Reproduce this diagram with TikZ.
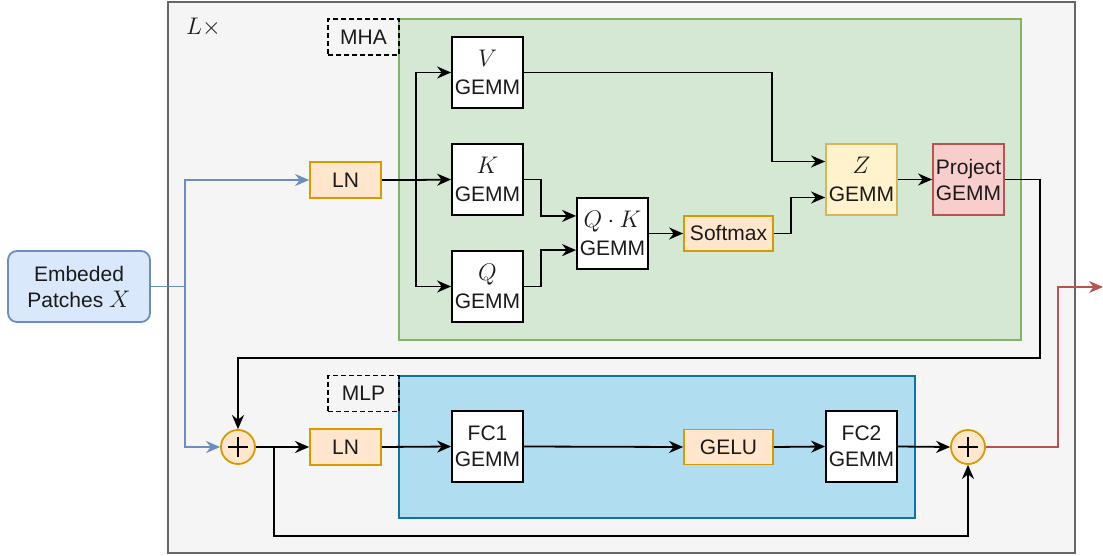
\RequirePackage{fix-cm}
\documentclass[tikz,border=0pt]{standalone}
\usepackage{fontspec}
\setmainfont{Liberation Sans}
\usetikzlibrary{arrows.meta,calc}
\definecolor{outerfill}{HTML}{F5F5F5}
\definecolor{outerdraw}{HTML}{666666}
\definecolor{greenfill}{HTML}{D5E8D4}
\definecolor{greendraw}{HTML}{82B366}
\definecolor{bluefill}{HTML}{B1DDF0}
\definecolor{bluedraw}{HTML}{10739E}
\definecolor{embfill}{HTML}{DAE8FC}
\definecolor{embdraw}{HTML}{6C8EBF}
\definecolor{orfill}{HTML}{FFE6CC}
\definecolor{ordraw}{HTML}{D79B00}
\definecolor{yelfill}{HTML}{FFF2CC}
\definecolor{yeldraw}{HTML}{D6B656}
\definecolor{redfill}{HTML}{F8CECC}
\definecolor{reddraw}{HTML}{B85450}
\definecolor{txt}{HTML}{1A1A1A}
\newcommand{\mth}[1]{{\fontsize{24}{24}\selectfont$#1$}}
\tikzset{
  every node/.style={font=\fontsize{21}{26}\selectfont, text=txt},
  gemmbox/.style={draw=black, fill=white, line width=1.8pt, minimum width=71pt, minimum height=71pt, inner sep=0pt, align=center},
  lnbox/.style={draw=ordraw, fill=orfill, line width=1.8pt, minimum width=71pt, minimum height=36pt, inner sep=0pt},
  widebox/.style={lnbox, minimum width=89pt, minimum height=35pt},
  tagbox/.style={draw=black, dash pattern=on 5pt off 3pt, line width=1.5pt, minimum width=71pt, minimum height=36pt, inner sep=0pt},
  plusnode/.style={circle, draw=ordraw, fill=orfill, line width=1.8pt, minimum size=34pt, inner sep=0pt,
    path picture={\draw[line width=1.2pt, black] ([xshift=-10pt]path picture bounding box.center) -- ([xshift=10pt]path picture bounding box.center);
                  \draw[line width=1.2pt, black] ([yshift=-10pt]path picture bounding box.center) -- ([yshift=10pt]path picture bounding box.center);}},
  tip/.style={-{Stealth[length=14pt,width=12pt,inset=4.5pt]}},
  arr/.style={line width=1.8pt, black, tip},
  ln/.style={line width=1.8pt, black},
  bluearr/.style={line width=1.8pt, embdraw, tip},
  redarr/.style={line width=1.8pt, reddraw, tip},
}
\begin{document}
\begin{tikzpicture}[x=1pt,y=-1pt]
\useasboundingbox (0,0) rectangle (1103,556);
% containers
\draw[fill=outerfill, draw=outerdraw, line width=1.8pt] (168,2) rectangle (1075,553);
\node[anchor=west, inner sep=0pt] (lx) at (186,27) {\mth{L\times}};
\draw[fill=greenfill, draw=greendraw, line width=1.8pt] (399,19) rectangle (1021,340);
\draw[fill=bluefill, draw=bluedraw, line width=1.8pt] (399,376) rectangle (915,518);
\node[tagbox] (mha) at (363.5,37) {MHA};
\node[tagbox] (mlp) at (363.5,393.5) {MLP};
% input
\node[draw=embdraw, fill=embfill, line width=1.8pt, rounded corners=9pt, minimum width=142pt, minimum height=71pt, inner sep=0pt, align=center] (emb) at (79,286.5) {Embeded\\Patches \mth{X}};
% MHA nodes
\node[lnbox] (ln1) at (345.5,180) {LN};
\node[gemmbox] (v) at (487.5,72.5) {\mth{V}\\[2pt]GEMM};
\node[gemmbox] (k) at (487.5,179.5) {\mth{K}\\[2pt]GEMM};
\node[gemmbox] (q) at (487.5,286.5) {\mth{Q}\\[2pt]GEMM};
\node[gemmbox] (qk) at (612.5,233.5) {\mth{Q\cdot K}\\[2pt]GEMM};
\node[widebox] (sm) at (728.5,233.5) {Softmax};
\node[gemmbox, draw=yeldraw, fill=yelfill] (z) at (861.5,179.5) {\mth{Z}\\[2pt]GEMM};
\node[gemmbox, draw=reddraw, fill=redfill] (proj) at (968.5,179.5) {Project\\GEMM};
% MLP nodes
\node[plusnode] (p1) at (238,447) {};
\node[lnbox] (ln2) at (345.5,447) {LN};
\node[gemmbox] (fc1) at (487.5,446.5) {FC1\\GEMM};
\node[widebox] (gelu) at (728.5,447) {GELU};
\node[gemmbox] (fc2) at (861.5,446.5) {FC2\\GEMM};
\node[plusnode] (p2) at (968,447) {};
% coordinates
\coordinate (jb) at (185,286.5);
\coordinate (j1) at (416,180);
\coordinate (j2) at (274,447);
\coordinate (out) at (1103,287);
% blue input lines
\draw[ln, embdraw] (emb.east) -- (jb);
\draw[bluearr] (jb) |- (ln1.west);
\draw[bluearr] (jb) |- (p1.west);
% LN to V,K,Q
\draw[ln] (ln1.east) -- (j1);
\draw[arr] (j1) |- (v.west);
\draw[arr] (j1) -- (k.west);
\draw[arr] (j1) |- (q.west);
% K,Q to QK
\draw[arr] (k.east) -- (541,179.5) |- (qk.west |- k.south);
\draw[arr] (q.east) -- (541,286.5) |- (qk.west |- q.north);
\draw[arr] (qk.east) -- (sm.west);
\draw[arr] (sm.east) -- (791,233.5) |- ([yshift=-18pt]z.west);
\draw[arr] (v.east) -- (772,72.5) |- ([yshift=18pt]z.west);
\draw[arr] (z.east) -- (proj.west);
\draw[arr] (proj.east) -- (1040,179.5) -- (1040,358) -| (p1.north);
% MLP chain
\draw[arr] (p1.east) -- (ln2.west);
\draw[arr] (ln2.east) -- (fc1.west);
\draw[arr] (fc1.east) -- (gelu.west);
\draw[arr] (gelu.east) -- (fc2.west);
\draw[arr] (fc2.east) -- (p2.west);
\draw[arr] (j2) -- (274,536) -| (p2.south);
\draw[redarr] (p2.east) -- (1058,447) -- (1058,287) -- (out);
\end{tikzpicture}
\end{document}
